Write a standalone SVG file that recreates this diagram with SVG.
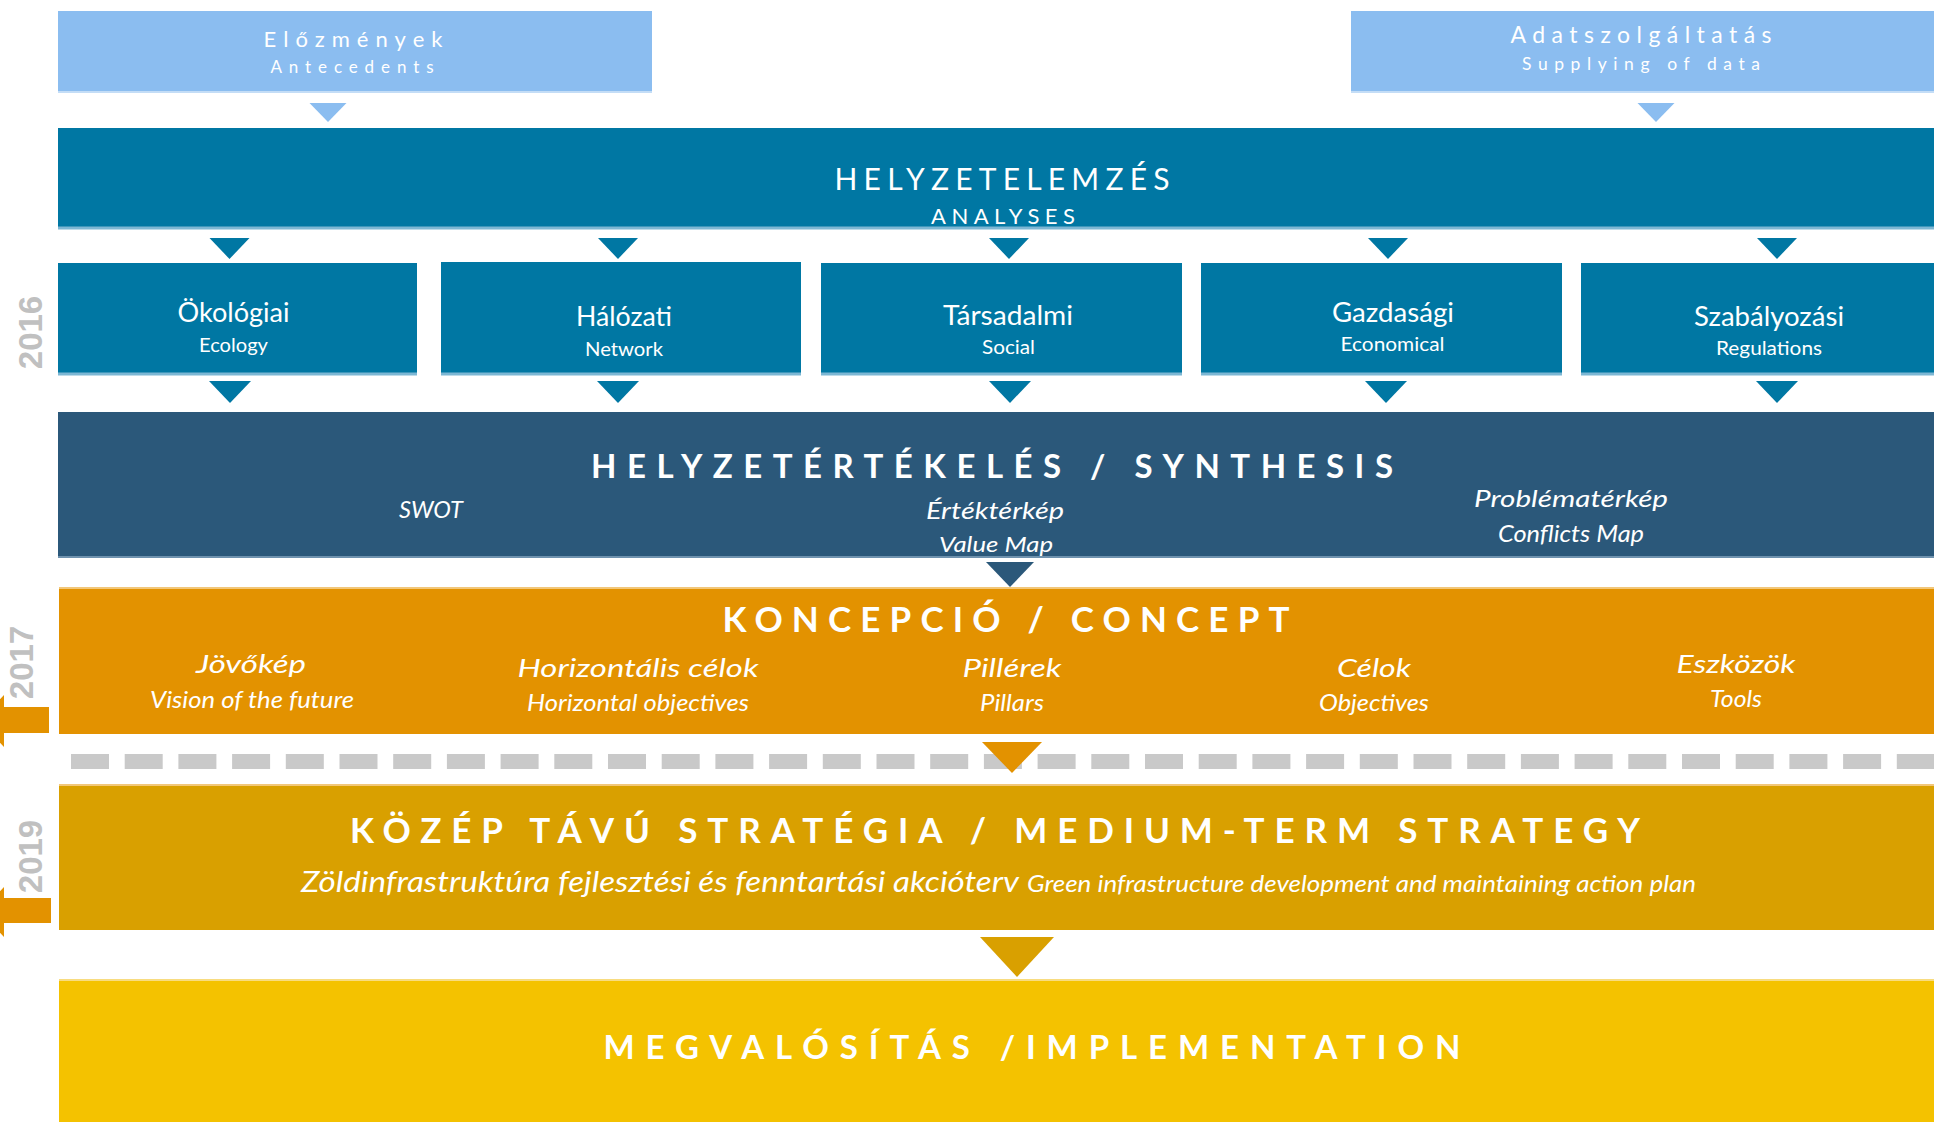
<svg xmlns="http://www.w3.org/2000/svg" width="1934" height="1122" viewBox="0 0 1934 1122">
<style>
text{font-family:Lato,"Open Sans","Liberation Sans",sans-serif;fill:#fff}
.c{text-anchor:middle}
.i{font-style:italic}
.b{font-weight:bold}
.yr{font-family:"Liberation Sans",Arial,sans-serif;font-weight:bold;fill:#C0C0C0;font-size:33px;text-anchor:middle}
.lb{fill:#8BBDF0}
.tl{fill:#0077A3}
.nv{fill:#2B587A}
.or{fill:#E39200}
.gd{fill:#D9A000}
.ye{fill:#F4C200}
.edgeT{stroke:#7DB7D4;stroke-width:3}
.edgeL{stroke:#C4DDF6;stroke-width:2}
.edgeO{stroke:#F2C77A;stroke-width:2}
.dash{stroke:#C9C9C9;stroke-width:15;stroke-dasharray:38 15.7;fill:none}
</style>
<rect width="1934" height="1122" fill="#fff"/>

<g id="years">
<text class="yr" transform="translate(42,332.5) rotate(-90)">2016</text>
<text class="yr" transform="translate(33,662.5) rotate(-90)">2017</text>
<text class="yr" transform="translate(42,856.5) rotate(-90)">2019</text>
<polygon class="or" points="49,707 4,707 4,695 -20,721 4,747 4,733 49,733"/>
<polygon class="or" points="51,898 4,898 4,887 -20,912 4,937 4,923 51,923"/>
</g>

<g id="elozmenyek">
<rect class="lb" x="58" y="11" width="594" height="82"/>
<line class="edgeL" x1="58" y1="92" x2="652" y2="92"/>
<text class="c" x="353" y="47" font-size="22" textLength="179" lengthAdjust="spacing">Előzmények</text>
<text class="c" x="352" y="73" font-size="17" textLength="163" lengthAdjust="spacing">Antecedents</text>
</g>

<g id="adatszolgaltatas">
<rect class="lb" x="1351" y="11" width="583" height="82"/>
<line class="edgeL" x1="1351" y1="92" x2="1934" y2="92"/>
<text class="c" x="1641" y="43" font-size="23" textLength="261" lengthAdjust="spacing">Adatszolgáltatás</text>
<text class="c" x="1641" y="70" font-size="17.5" textLength="238" lengthAdjust="spacing">Supplying of data</text>
</g>

<g id="helyzetelemzes">
<rect class="tl" x="58" y="128" width="1876" height="101"/>
<line class="edgeT" x1="58" y1="228" x2="1934" y2="228"/>
<text class="c" x="1002" y="190" font-size="30" textLength="335" lengthAdjust="spacing">HELYZETELEMZÉS</text>
<text class="c" x="1003" y="224" font-size="22" textLength="144" lengthAdjust="spacing">ANALYSES</text>
</g>

<g id="okologiai">
<rect class="tl" x="58" y="263" width="359" height="112"/>
<line class="edgeT" x1="58" y1="374" x2="417" y2="374"/>
<text class="c" x="233.5" y="322" font-size="26" textLength="112" lengthAdjust="spacingAndGlyphs">Ökológiai</text>
<text class="c" x="233.5" y="352" font-size="19.5" textLength="69" lengthAdjust="spacingAndGlyphs">Ecology</text>
</g>

<g id="halozati">
<rect class="tl" x="441" y="262" width="360" height="113"/>
<line class="edgeT" x1="441" y1="374" x2="801" y2="374"/>
<text class="c" x="624" y="326" font-size="26" textLength="96" lengthAdjust="spacingAndGlyphs">Hálózati</text>
<text class="c" x="624" y="356" font-size="19.5" textLength="78" lengthAdjust="spacingAndGlyphs">Network</text>
</g>

<g id="tarsadalmi">
<rect class="tl" x="821" y="263" width="361" height="112"/>
<line class="edgeT" x1="821" y1="374" x2="1182" y2="374"/>
<text class="c" x="1008" y="325" font-size="26" textLength="130" lengthAdjust="spacingAndGlyphs">Társadalmi</text>
<text class="c" x="1008.5" y="354" font-size="19.5" textLength="53" lengthAdjust="spacingAndGlyphs">Social</text>
</g>

<g id="gazdasagi">
<rect class="tl" x="1201" y="263" width="361" height="112"/>
<line class="edgeT" x1="1201" y1="374" x2="1562" y2="374"/>
<text class="c" x="1393" y="322" font-size="26" textLength="122" lengthAdjust="spacingAndGlyphs">Gazdasági</text>
<text class="c" x="1392.5" y="351" font-size="19.5" textLength="104" lengthAdjust="spacingAndGlyphs">Economical</text>
</g>

<g id="szabalyozasi">
<rect class="tl" x="1581" y="263" width="353" height="112"/>
<line class="edgeT" x1="1581" y1="374" x2="1934" y2="374"/>
<text class="c" x="1769" y="326" font-size="26" textLength="150" lengthAdjust="spacingAndGlyphs">Szabályozási</text>
<text class="c" x="1769" y="355" font-size="19.5" textLength="106" lengthAdjust="spacingAndGlyphs">Regulations</text>
</g>

<g id="synthesis">
<rect class="nv" x="58" y="412" width="1876" height="146"/>
<line stroke="#6F92AE" stroke-width="2" x1="58" y1="557" x2="1934" y2="557"/>
<text class="c b" x="992" y="478" font-size="33" textLength="802" lengthAdjust="spacing">HELYZETÉRTÉKELÉS / SYNTHESIS</text>
<text class="c i" x="431" y="518" font-size="23" textLength="64" lengthAdjust="spacingAndGlyphs">SWOT</text>
<text class="c i" x="995" y="519" font-size="23" textLength="138" lengthAdjust="spacingAndGlyphs">Értéktérkép</text>
<text class="c i" x="996" y="552" font-size="22" textLength="114" lengthAdjust="spacingAndGlyphs">Value Map</text>
<text class="c i" x="1571" y="507" font-size="23" textLength="194" lengthAdjust="spacingAndGlyphs">Problématérkép</text>
<text class="c i" x="1571" y="542" font-size="23" textLength="146" lengthAdjust="spacingAndGlyphs">Conflicts Map</text>
</g>

<g id="concept">
<rect class="or" x="59" y="587" width="1875" height="147"/>
<line class="edgeO" x1="59" y1="588" x2="1934" y2="588"/>
<text class="c b" x="1006" y="632" font-size="35" textLength="567" lengthAdjust="spacing">KONCEPCIÓ / CONCEPT</text>
<text class="c i" x="251" y="673" font-size="25.5" textLength="110" lengthAdjust="spacingAndGlyphs">Jövőkép</text>
<text class="c i" x="252" y="708" font-size="23" textLength="204" lengthAdjust="spacingAndGlyphs">Vision of the future</text>
<text class="c i" x="638" y="677" font-size="25.5" textLength="241" lengthAdjust="spacingAndGlyphs">Horizontális célok</text>
<text class="c i" x="638" y="711" font-size="23" textLength="222" lengthAdjust="spacingAndGlyphs">Horizontal objectives</text>
<text class="c i" x="1012" y="677" font-size="25.5" textLength="99" lengthAdjust="spacingAndGlyphs">Pillérek</text>
<text class="c i" x="1012" y="711" font-size="23" textLength="64" lengthAdjust="spacingAndGlyphs">Pillars</text>
<text class="c i" x="1374" y="677" font-size="25.5" textLength="74" lengthAdjust="spacingAndGlyphs">Célok</text>
<text class="c i" x="1374" y="711" font-size="23" textLength="110" lengthAdjust="spacingAndGlyphs">Objectives</text>
<text class="c i" x="1736" y="673" font-size="25.5" textLength="119" lengthAdjust="spacingAndGlyphs">Eszközök</text>
<text class="c i" x="1736" y="707" font-size="23" textLength="52" lengthAdjust="spacingAndGlyphs">Tools</text>
</g>

<g id="divider">
<line class="dash" x1="71" y1="761.5" x2="1934" y2="761.5"/>
</g>

<g id="medium-term">
<rect class="gd" x="59" y="784" width="1875" height="146"/>
<line class="edgeO" x1="59" y1="785" x2="1934" y2="785"/>
<text class="c b" x="995" y="843" font-size="35" textLength="1290" lengthAdjust="spacing">KÖZÉP TÁVÚ STRATÉGIA / MEDIUM-TERM STRATEGY</text>
<text class="i" x="301" y="892" font-size="28" textLength="718" lengthAdjust="spacingAndGlyphs">Zöldinfrastruktúra fejlesztési és fenntartási akcióterv</text>
<text class="i" x="1027" y="892" font-size="23" textLength="669" lengthAdjust="spacingAndGlyphs">Green infrastructure development and maintaining action plan</text>
</g>

<g id="implementation">
<rect class="ye" x="59" y="979" width="1875" height="143"/>
<line stroke="#F8DC80" stroke-width="2" x1="59" y1="980" x2="1934" y2="980"/>
<text class="c b" x="1032" y="1059" font-size="33" textLength="857" lengthAdjust="spacing">MEGVALÓSÍTÁS /IMPLEMENTATION</text>
</g>

<g id="connectors">
<polygon class="lb" points="309.5,103 346.5,103 328,122"/>
<polygon class="lb" points="1637.5,103 1674.5,103 1656,122"/>
<polygon class="tl" points="209.5,238 249.5,238 229.5,259"/>
<polygon class="tl" points="598,238 638,238 618,259"/>
<polygon class="tl" points="989,238 1029,238 1009,259"/>
<polygon class="tl" points="1368,238 1408,238 1388,259"/>
<polygon class="tl" points="1757,238 1797,238 1777,259"/>
<polygon class="tl" points="209,381 251,381 230,403"/>
<polygon class="tl" points="597,381 639,381 618,403"/>
<polygon class="tl" points="989,381 1031,381 1010,403"/>
<polygon class="tl" points="1365,381 1407,381 1386,403"/>
<polygon class="tl" points="1756,381 1798,381 1777,403"/>
<polygon class="nv" points="986,562 1034,562 1010,587"/>
<polygon class="or" points="982,742 1042,742 1012,773"/>
<polygon class="gd" points="980,937 1054,937 1017,977"/>
</g>
</svg>
